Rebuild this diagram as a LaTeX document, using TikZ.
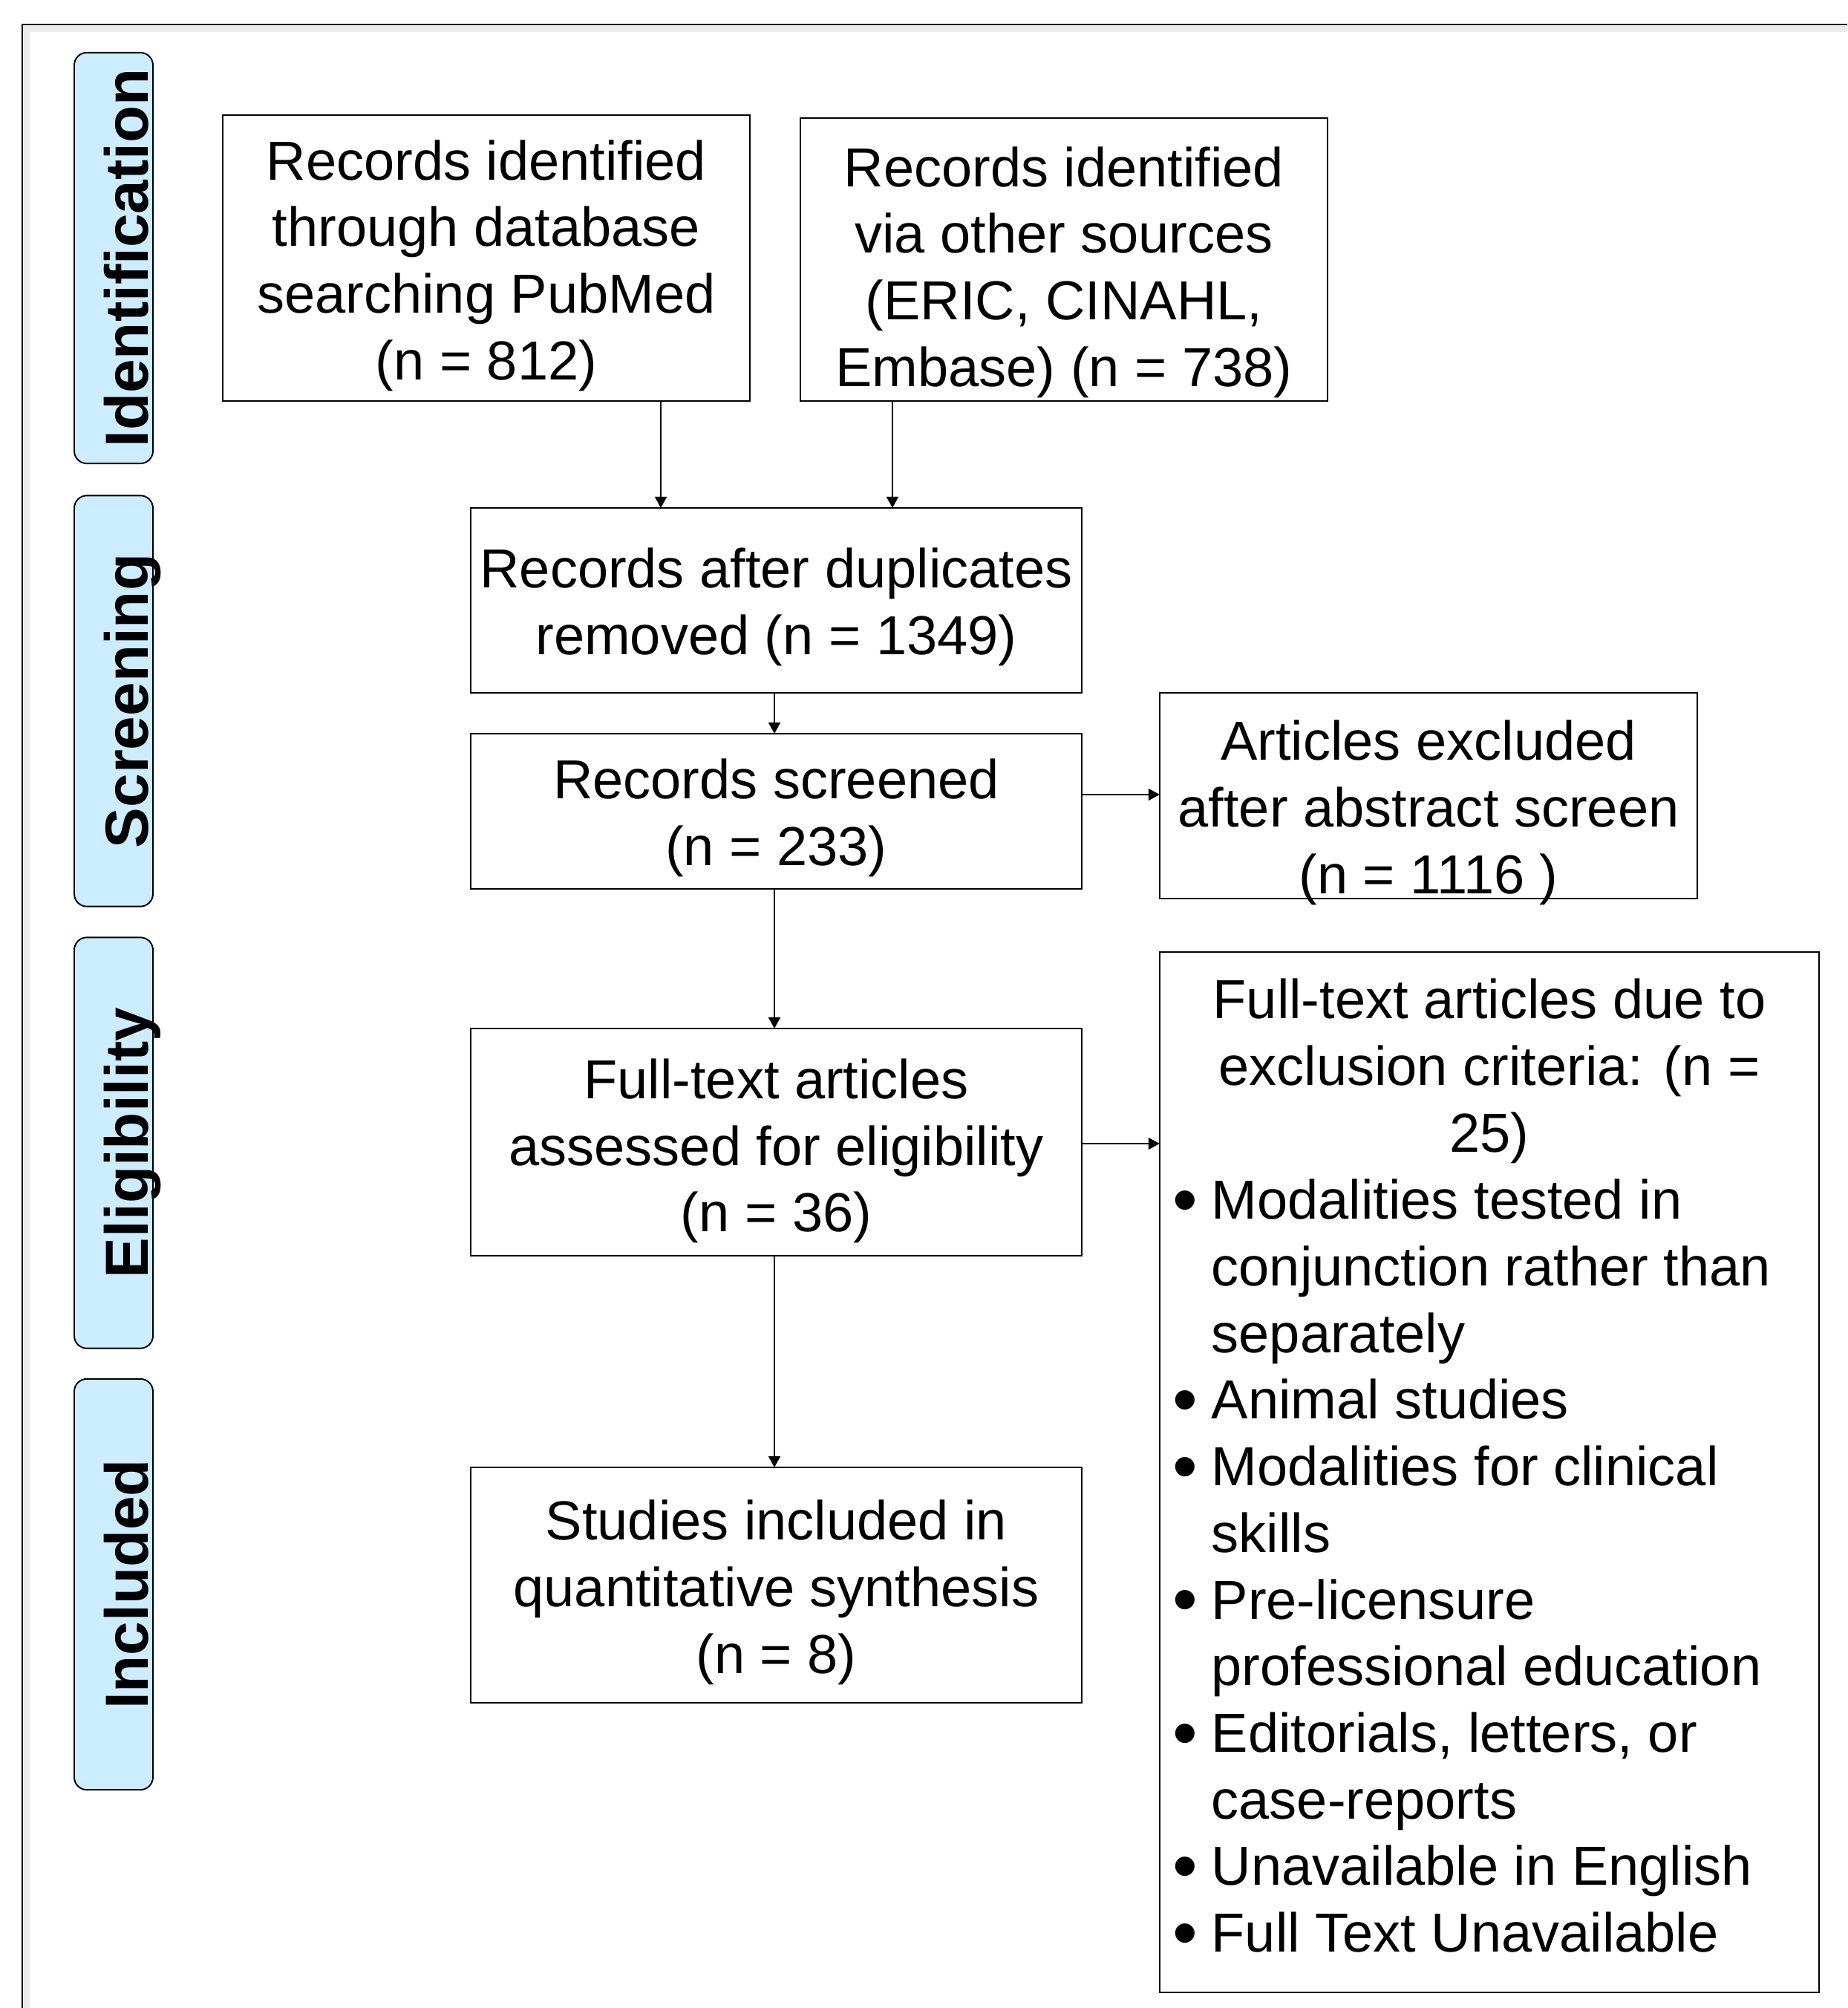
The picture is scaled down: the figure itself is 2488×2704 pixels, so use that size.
\documentclass[tikz,border=0pt]{standalone}
\usepackage{fontspec}
\setmainfont{Liberation Sans}
\usetikzlibrary{arrows.meta}
\definecolor{lblue}{HTML}{CCECFF}
\newcommand{\bul}{\makebox[0.52cm][l]{\raisebox{-0.09em}{\scalebox{1.3}{•}}}}
\begin{document}
\begin{tikzpicture}[x=0.01cm, y=-0.01cm,
  box/.style={draw, line width=0.55pt, inner sep=0pt, outer sep=0pt},
  lbl/.style={draw, line width=0.55pt, fill=lblue, rounded corners=0.17cm, minimum width=1.06cm, minimum height=5.53cm, inner sep=0pt},
  lbltext/.style={rotate=90, anchor=base, font=\fontsize{23.3pt}{28pt}\selectfont\bfseries, inner sep=0pt},
  txt/.style={align=center, font=\fontsize{21.05pt}{25.52pt}\selectfont, inner sep=0pt},
  arr/.style={-{Triangle[length=0.15cm, width=0.16cm]}, line width=0.55pt}]
\useasboundingbox (0,0) rectangle (2488,2704);
\clip (0,0) rectangle (2488,2704);
\fill[white] (0,0) rectangle (2488,2704);
\draw[black!8, line width=2pt] (36,2800) -- (36,39) -- (2600,39);
\draw[line width=0.6pt] (30,2800) -- (30,33) -- (2600,33);

% side labels
\node[lbl] (L1) at (153,347.5) {};
\node[lbltext] (L1t) at (199,347.5) {Identification};
\node[lbl] (L2) at (153,944) {};
\node[lbltext] (L2t) at (199,944) {Screening};
\node[lbl] (L3) at (153,1539) {};
\node[lbltext] (L3t) at (199,1539) {Eligibility};
\node[lbl] (L4) at (153,2133.5) {};
\node[lbltext] (L4t) at (199,2133.5) {Included};

% boxes
\node[box, minimum width=7.10cm, minimum height=3.85cm] (A) at (655,347.5) {};
\node[box, minimum width=7.10cm, minimum height=3.81cm] (B) at (1433,349.5) {};
\node[box, minimum width=8.23cm, minimum height=2.49cm] (C) at (1045.5,808.5) {};
\node[box, minimum width=8.23cm, minimum height=2.09cm] (D) at (1045.5,1092.5) {};
\node[box, minimum width=7.24cm, minimum height=2.77cm] (E) at (1924,1071.5) {};
\node[box, minimum width=8.23cm, minimum height=3.06cm] (F) at (1045.5,1538) {};
\node[box, minimum width=8.88cm, minimum height=14.01cm] (G) at (2006,1982.5) {};
\node[box, minimum width=8.23cm, minimum height=3.17cm] (H) at (1045.5,2134.5) {};

% texts
\node[txt, yshift=-0.10cm] (tA) at (A.center) {Records identified\\through database\\searching PubMed\\(n = 812)};
\node[txt, yshift=-0.17cm] (tB) at (B.center) {Records identified\\via other sources\\(ERIC, CINAHL,\\Embase) (n = 738)};
\node[txt, yshift=-0.09cm] (tC) at (C.center) {Records after duplicates\\removed (n = 1349)};
\node[txt, yshift=-0.09cm] (tD) at (D.center) {Records screened\\(n = 233)};
\node[txt, yshift=-0.23cm] (tE) at (E.center) {Articles excluded\\after abstract screen\\(n = 1116 )};
\node[txt, yshift=-0.12cm] (tF) at (F.center) {Full-text articles\\assessed for eligibility\\(n = 36)};
\node[txt, yshift=-0.10cm] (tH) at (H.center) {Studies included in\\quantitative synthesis\\(n = 8)};
\node[txt, anchor=base] (tG1) at (2006,1551.4) {Full-text articles due to\\exclusion criteria: (n =\\25)};
\node[txt, align=left, anchor=base west] (tG2) at (1579,2628.7) {%
\bul Modalities tested in\\
\hspace*{0.52cm}conjunction rather than\\
\hspace*{0.52cm}separately\\
\bul Animal studies\\
\bul Modalities for clinical\\
\hspace*{0.52cm}skills\\
\bul Pre-licensure\\
\hspace*{0.52cm}professional education\\
\bul Editorials, letters, or\\
\hspace*{0.52cm}case-reports\\
\bul Unavailable in English\\
\bul Full Text Unavailable};

% arrow x positions
\coordinate (xa) at (890,0);
\coordinate (xb) at (1202,0);
\coordinate (xc) at (1043,0);
\coordinate (yd) at (0,1070);
\coordinate (yf) at (0,1540);

\draw[arr] (A.south -| xa) -- (C.north -| xa);
\draw[arr] (B.south -| xb) -- (C.north -| xb);
\draw[arr] (C.south -| xc) -- (D.north -| xc);
\draw[arr] (D.east |- yd) -- (E.west |- yd);
\draw[arr] (D.south -| xc) -- (F.north -| xc);
\draw[arr] (F.east |- yf) -- (G.west |- yf);
\draw[arr] (F.south -| xc) -- (H.north -| xc);
\end{tikzpicture}
\end{document}
